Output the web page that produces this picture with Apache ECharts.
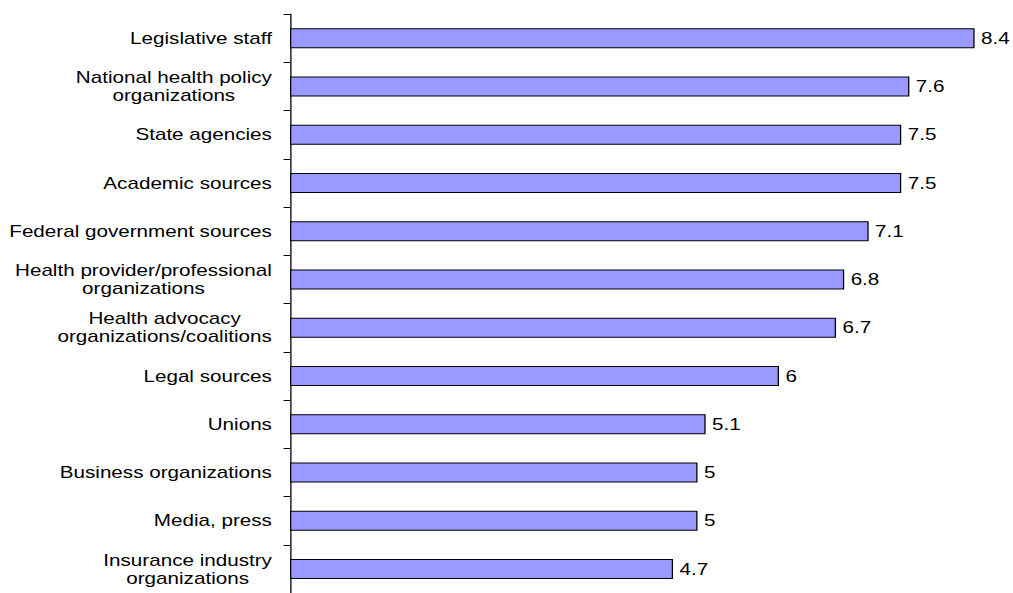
<!DOCTYPE html>
<html>
<head>
<meta charset="utf-8">
<script src="https://cdn.jsdelivr.net/npm/echarts@6/dist/echarts.min.js"></script>
<style>
html,body{margin:0;padding:0;background:#fff;overflow:hidden;}
#wrap{width:1013px;height:593px;overflow:hidden;}
#c{width:785px;height:593px;transform:scaleX(1.29);transform-origin:0 0;}
</style>
</head>
<body>
<div id="wrap"><div id="c"></div></div>
<script>
const categories = [
  "Legislative staff",
  "National health policy\norganizations",
  "State agencies",
  "Academic sources",
  "Federal government sources",
  "Health provider/professional\norganizations",
  "Health advocacy\norganizations/coalitions",
  "Legal sources",
  "Unions",
  "Business organizations",
  "Media, press",
  "Insurance industry\norganizations"
];
const values = [8.4, 7.6, 7.5, 7.5, 7.1, 6.8, 6.7, 6, 5.1, 5, 5, 4.7];

const FONT = '"Liberation Sans", Arial, Helvetica, sans-serif';
const chart = echarts.init(document.getElementById('c'), null, {renderer: 'svg'});
chart.setOption({
  animation: false,
  backgroundColor: '#ffffff',
  grid: {left: 224.8, right: 29.5, top: 14, height: 583, containLabel: false},
  xAxis: {
    type: 'value', min: 0, max: 8.4, show: false,
    splitLine: {show: false}
  },
  yAxis: {
    type: 'category',
    data: categories,
    inverse: true,
    axisLine: {show: true, lineStyle: {color: '#000', width: 1}},
    axisTick: {show: true, length: 5, lineStyle: {color: '#000', width: 1}},
    splitLine: {show: false},
    axisLabel: {
      margin: 14,
      color: '#000',
      fontFamily: FONT,
      fontSize: 16,
      lineHeight: 18,
      align: 'right',
      formatter: function (v) {
        return v.split('\n').map(function (l) { return '{c|' + l + '}'; }).join('\n');
      },
      rich: {
        c: {align: 'center', color: '#000', fontFamily: FONT, fontSize: 16, lineHeight: 18}
      }
    }
  },
  series: [{
    type: 'bar',
    data: values,
    barWidth: 20,
    itemStyle: {color: '#9999FF', borderColor: '#000', borderWidth: 1},
    label: {
      show: true, position: 'right', distance: 5,
      color: '#000', fontFamily: FONT, fontSize: 16
    }
  }]
});
</script>
</body>
</html>
